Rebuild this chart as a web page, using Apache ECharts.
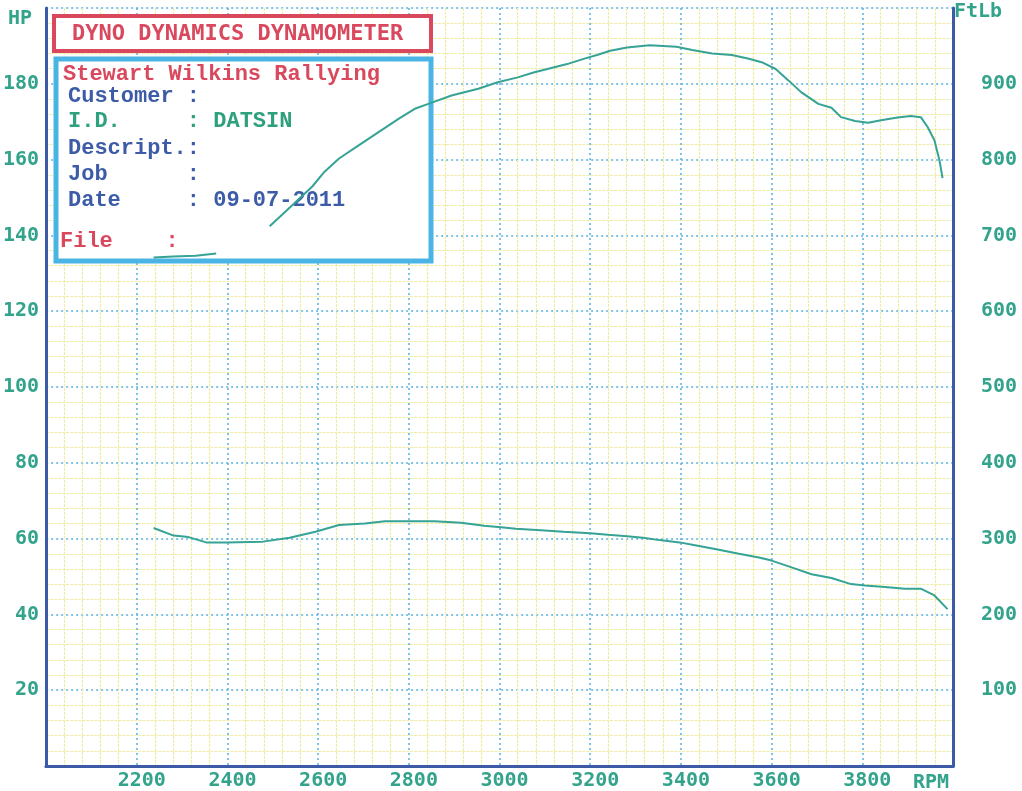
<!DOCTYPE html>
<html>
<head>
<meta charset="utf-8">
<script src="https://cdn.jsdelivr.net/npm/echarts@6/dist/echarts.min.js"></script>
<style>
html,body{margin:0;padding:0;background:#ffffff;}
#chart{width:1022px;height:791px;}
</style>
</head>
<body>
<div id="chart"></div>
<script>
// ---- data ----
var xTicks = [2200, 2400, 2600, 2800, 3000, 3200, 3400, 3600, 3800];
var hpTicks = [20, 40, 60, 80, 100, 120, 140, 160, 180];
var ftlbTicks = [100, 200, 300, 400, 500, 600, 700, 800, 900];

// Power curve (HP, left axis); null marks the part hidden in the original printout
var powerRpm = [2237, 2280, 2330, 2375, 2440, 2493, 2544, 2587, 2614, 2646, 2690, 2734, 2778, 2813, 2843, 2894, 2953, 2996,
  3040, 3075, 3112, 3149, 3189, 3215, 3244, 3281, 3331, 3390, 3425, 3469, 3512, 3550, 3578, 3609, 3637, 3665, 3703,
  3732, 3753, 3784, 3813, 3841, 3878, 3907, 3929, 3944, 3959, 3970, 3977];
var powerHp = [134.2, 134.4, 134.6, 135.2, null, 142.4, 148.1, 152.9, 156.8, 160.3, 163.8, 167.3, 170.8, 173.4, 174.7, 176.9, 178.7, 180.4,
  181.7, 183.0, 184.1, 185.2, 186.7, 187.6, 188.7, 189.6, 190.2, 189.8, 188.9, 188.0, 187.6, 186.6, 185.7, 183.9, 180.9, 177.8, 174.7,
  173.7, 171.2, 170.2, 169.7, 170.4, 171.1, 171.5, 171.2, 168.6, 165.1, 159.9, 155.1];

// Torque curve (FtLb, right axis)
var torqueRpm = [2237, 2281, 2314, 2353, 2397, 2478, 2537, 2594, 2646, 2703, 2747, 2800, 2856, 2915, 2966, 3003, 3036, 3091,
  3141, 3200, 3239, 3281, 3316, 3353, 3397, 3434, 3478, 3528, 3572, 3600, 3644, 3688, 3732, 3775, 3806, 3850, 3894,
  3929, 3959, 3988];
var torqueFtLb = [314, 304, 302, 295, 295, 296, 301, 309, 318, 320, 323, 323, 323, 321, 317, 315, 313, 311,
  309, 307, 305, 303, 301, 298, 295, 291, 286, 280, 275, 271, 262, 253, 248, 240, 238, 236, 234,
  234, 225, 207];

// ---- build ----
function zip(a, b) { return a.map(function (v, i) { return [v, b[i]]; }); }

var teal = '#33a38c';
var curve = '#35a395';
var border = '#3c5aa8';
var blueGrid = '#57b0de';
var yellowGrid = '#efeca6';
var red = '#d9485c';
var blueText = '#3d5ca8';
var greenText = '#2fa07e';
var monoSans = 'DejaVu Sans Mono';
var monoSerif = 'Liberation Mono';

var labelBase = { color: teal, fontFamily: monoSans, fontWeight: 'bold', fontSize: 20 };

var chart = echarts.init(document.getElementById('chart'), null, { renderer: 'canvas' });

function lines(items) {
  return items.map(function (it) {
    return {
      type: 'text', z: 10, x: it.x, y: it.y,
      style: {
        text: it.t, fill: it.c, fontFamily: it.f || monoSerif, fontSize: it.s || 22,
        fontWeight: 'bold', verticalAlign: 'middle'
      }
    };
  });
}

var option = {
  backgroundColor: '#ffffff',
  animation: false,
  grid: { left: 42, top: 8, right: 69, bottom: 22, containLabel: false },
  xAxis: [{
    type: 'value', min: 2000, max: 4000, interval: 200, position: 'bottom',
    axisLine: { show: true, lineStyle: { color: border, width: 3 } },
    axisTick: { show: false },
    minorTick: { show: false, splitNumber: 5 },
    splitLine: { show: true, lineStyle: { color: blueGrid, type: [2, 3], width: 1.5 } },
    minorSplitLine: { show: true, lineStyle: { color: yellowGrid, type: [3, 1], width: 1.2 } },
    axisLabel: Object.assign({}, labelBase, {
      margin: 5, padding: [0, 0, 0, 10],
      formatter: function (v) { return xTicks.indexOf(v) >= 0 ? String(v) : ''; }
    })
  }, {
    type: 'value', min: 2000, max: 4000, position: 'top',
    axisLine: { show: true, lineStyle: { color: border, width: 3 } },
    axisTick: { show: false }, axisLabel: { show: false }, splitLine: { show: false }
  }],
  yAxis: [{
    type: 'value', min: 0, max: 200, interval: 20, position: 'left',
    axisLine: { show: true, lineStyle: { color: border, width: 3 } },
    axisTick: { show: false },
    minorTick: { show: false, splitNumber: 5 },
    splitLine: { show: true, lineStyle: { color: blueGrid, type: [2, 3], width: 1.5 } },
    minorSplitLine: { show: true, lineStyle: { color: yellowGrid, type: [3, 1], width: 1.2 } },
    axisLabel: Object.assign({}, labelBase, {
      margin: 7,
      formatter: function (v) { return hpTicks.indexOf(v) >= 0 ? String(v) : ''; }
    })
  }, {
    type: 'value', min: 0, max: 1000, interval: 100, position: 'right',
    axisLine: { show: true, lineStyle: { color: border, width: 3 } },
    axisTick: { show: false },
    splitLine: { show: false },
    axisLabel: Object.assign({}, labelBase, {
      margin: 28, align: 'left', padding: [0, 0, 8, 0],
      formatter: function (v) { return ftlbTicks.indexOf(v) >= 0 ? String(v) : ''; }
    })
  }],
  series: [{
    name: 'HP', type: 'line', xAxisIndex: 0, yAxisIndex: 0, z: 20,
    data: zip(powerRpm, powerHp), showSymbol: false, connectNulls: false,
    lineStyle: { color: curve, width: 2 }
  }, {
    name: 'FtLb', type: 'line', xAxisIndex: 0, yAxisIndex: 1, z: 20,
    data: zip(torqueRpm, torqueFtLb), showSymbol: false,
    lineStyle: { color: curve, width: 2 }
  }],
  graphic: [
    { type: 'text', x: 8, y: 19, z: 10, style: { text: 'HP', fill: teal, fontFamily: monoSans, fontSize: 20, fontWeight: 'bold', verticalAlign: 'middle' } },
    { type: 'text', x: 954, y: 12, z: 10, style: { text: 'FtLb', fill: teal, fontFamily: monoSans, fontSize: 20, fontWeight: 'bold', verticalAlign: 'middle' } },
    { type: 'text', x: 913, y: 783, z: 10, style: { text: 'RPM', fill: teal, fontFamily: monoSans, fontSize: 20, fontWeight: 'bold', verticalAlign: 'middle' } },
    { type: 'rect', z: 5, shape: { x: 54, y: 16, width: 377, height: 35 }, style: { fill: '#ffffff', stroke: red, lineWidth: 4 } },
    { type: 'rect', z: 5, shape: { x: 56, y: 59, width: 375, height: 202 }, style: { fill: '#ffffff', stroke: '#4ab4e4', lineWidth: 5 } }
  ].concat(lines([
    { t: 'DYNO DYNAMICS DYNAMOMETER', x: 72, y: 34, c: red, f: monoSans },
    { t: 'Stewart Wilkins Rallying', x: 63, y: 74, c: red },
    { t: 'Customer :', x: 68, y: 96, c: blueText },
    { t: 'I.D.     : DATSIN', x: 68, y: 121, c: greenText },
    { t: 'Descript.:', x: 68, y: 148, c: blueText },
    { t: 'Job      :', x: 68, y: 174, c: blueText },
    { t: 'Date     : 09-07-2011', x: 68, y: 200, c: blueText },
    { t: 'File    :', x: 60, y: 241, c: red }
  ]))
};
chart.setOption(option);
</script>
</body>
</html>
